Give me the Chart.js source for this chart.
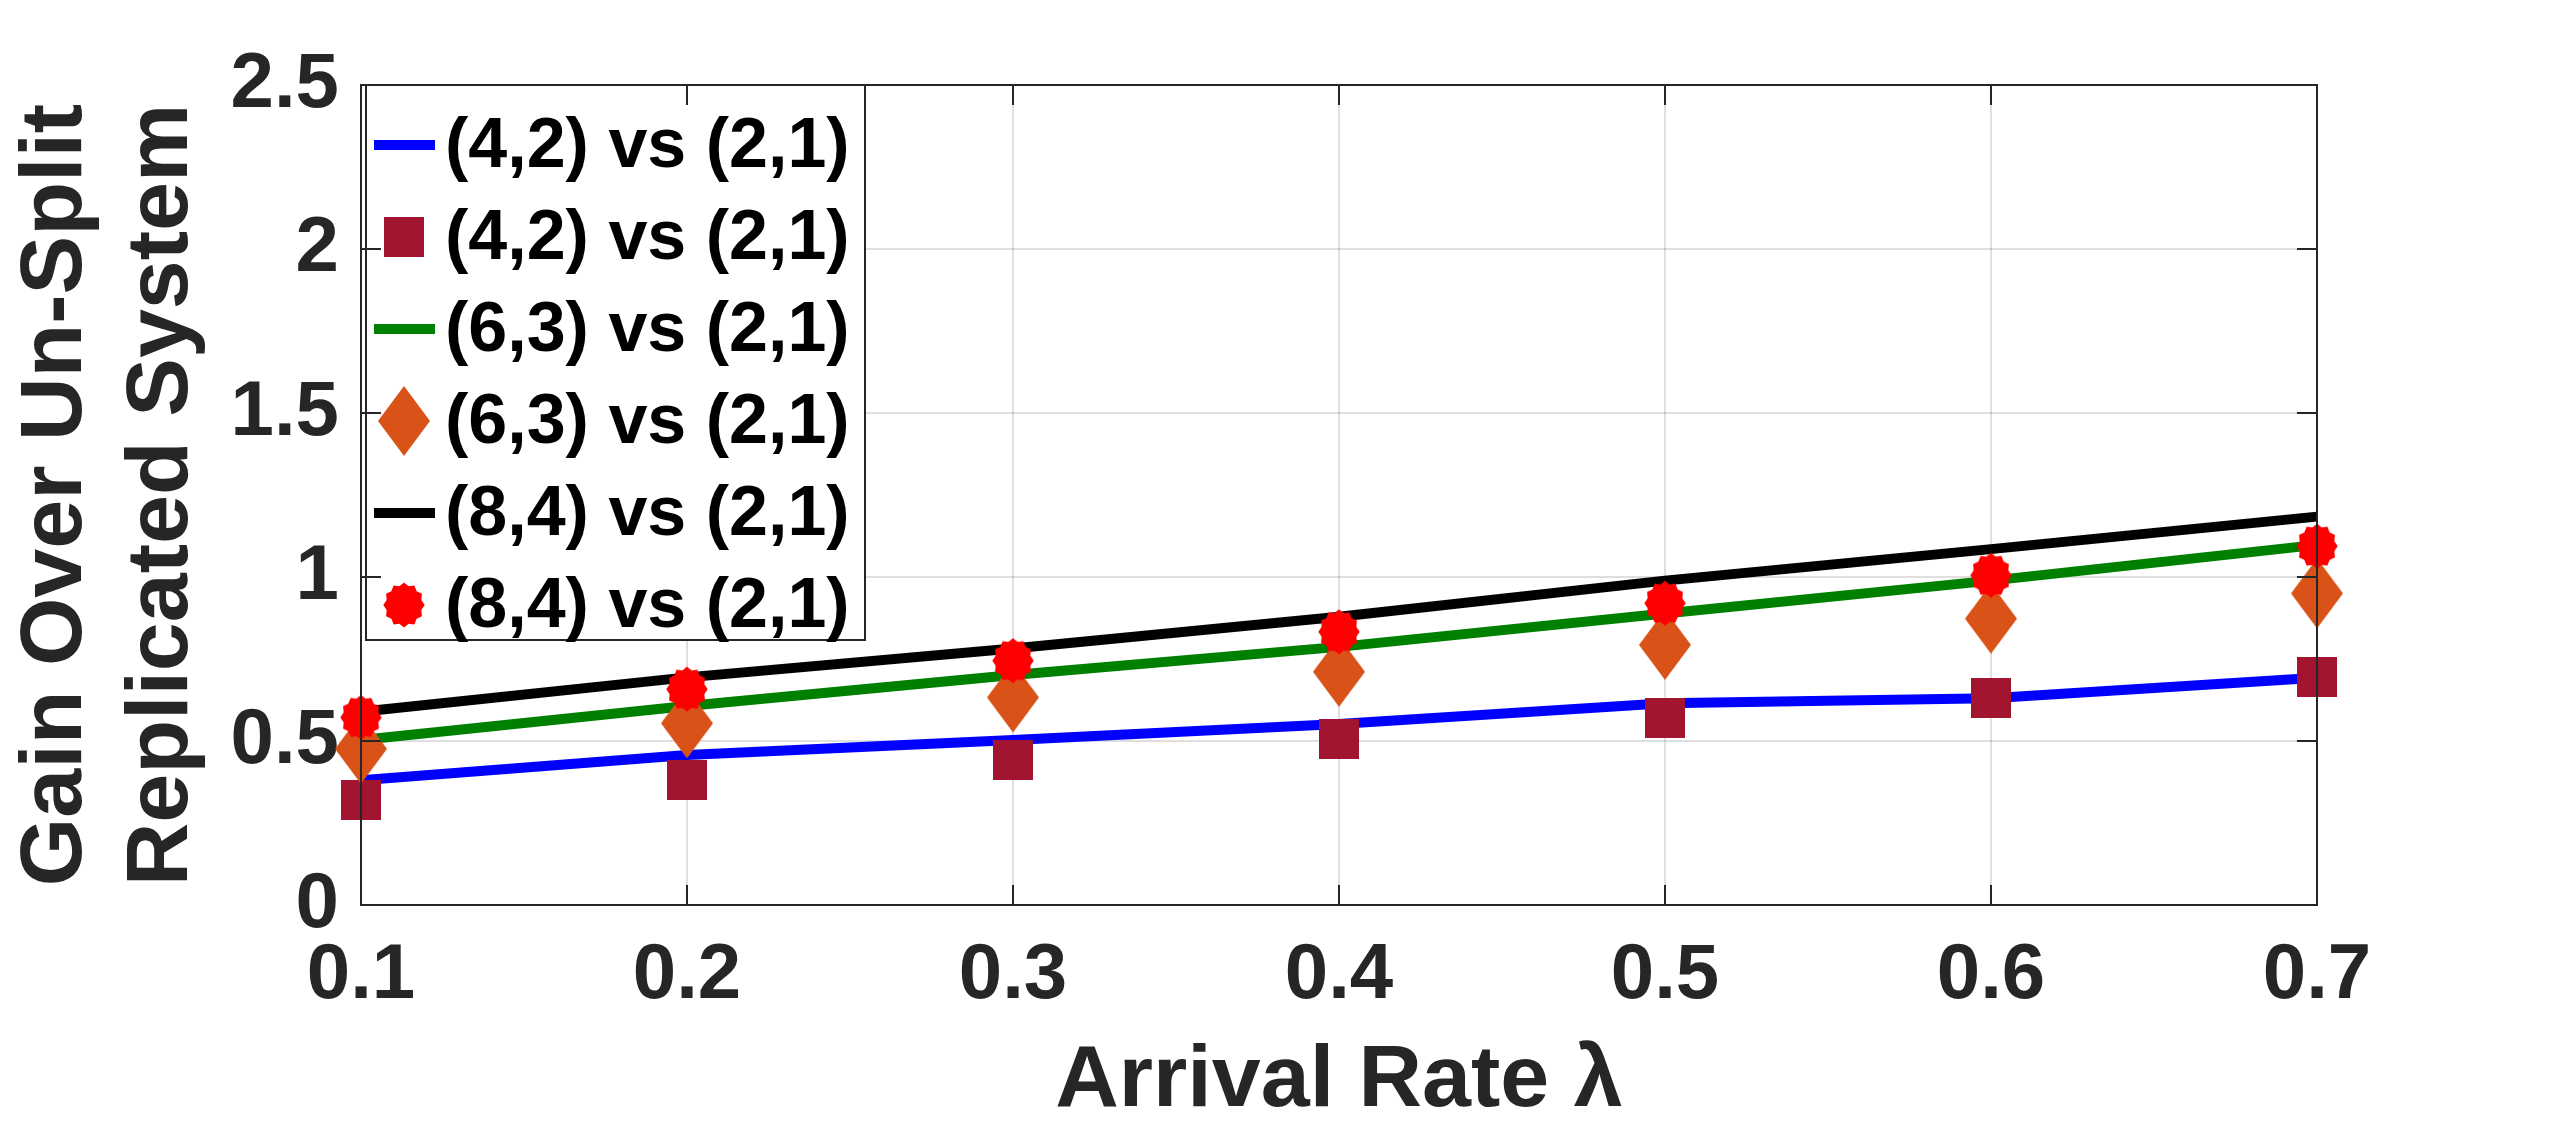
<!DOCTYPE html>
<html>
<head>
<meta charset="UTF-8">
<title>Gain over un-split replicated system</title>
<style>
  html, body { margin: 0; padding: 0; background: #ffffff; }
  #wrap { width: 2560px; height: 1135px; }
</style>
<script src="https://cdn.jsdelivr.net/npm/chart.js"></script>
</head>
<body>
<div id="wrap"><canvas id="gainChart" width="2560" height="1135"></canvas></div>
<script>
// values
const arrivalRate = [0.1, 0.2, 0.3, 0.4, 0.5, 0.6, 0.7];
const line42 = [0.380, 0.457, 0.503, 0.552, 0.615, 0.630, 0.693];
const marks42 = [0.320, 0.380, 0.443, 0.505, 0.569, 0.630, 0.694];
const line63 = [0.503, 0.607, 0.701, 0.787, 0.889, 0.989, 1.098];
const marks63 = [0.476, 0.554, 0.633, 0.711, 0.793, 0.873, 0.950];
const line84 = [0.589, 0.694, 0.782, 0.879, 0.989, 1.085, 1.184];
const marks84 = [0.572, 0.658, 0.745, 0.833, 0.920, 1.005, 1.094];
const seriesLabels = ['(4,2) vs (2,1)', '(4,2) vs (2,1)', '(6,3) vs (2,1)', '(6,3) vs (2,1)', '(8,4) vs (2,1)', '(8,4) vs (2,1)'];
const xTickValues = [0.1, 0.2, 0.3, 0.4, 0.5, 0.6, 0.7];
const yTickValues = [0, 0.5, 1, 1.5, 2, 2.5];

const FONT = "'Liberation Sans', Arial, sans-serif";
const AXIS_COLOR = '#262626';

function pairs(ys) {
    return arrivalRate.map(function(x, i) { return {x: x, y: ys[i]}; });
}

function makeMarker(w, h, draw) {
    const c = document.createElement('canvas');
    c.width = w;
    c.height = h;
    draw(c.getContext('2d'), w, h);
    return c;
}

const squareMark = makeMarker(40, 40, function(g, w, h) {
    g.fillStyle = '#A2142F';
    g.fillRect(0, 0, w, h);
});
const diamondMark = makeMarker(52, 70, function(g, w, h) {
    g.fillStyle = '#D95319';
    g.beginPath();
    g.moveTo(w / 2, 0);
    g.lineTo(w, h / 2);
    g.lineTo(w / 2, h);
    g.lineTo(0, h / 2);
    g.closePath();
    g.fill();
});
const starMark = makeMarker(46, 46, function(g, w, h) {
    // bumpy red blob, like the fat hexagram of the original
    g.fillStyle = '#FF0000';
    g.beginPath();
    const n = 24;
    for (let i = 0; i < n; i++) {
        const r = (i % 2 === 0) ? 22.5 : 19.5;
        const a = i * Math.PI * 2 / n - Math.PI / 2;
        const px = w / 2 + r * Math.cos(a) * 0.92;
        const py = h / 2 + r * Math.sin(a);
        if (i === 0) g.moveTo(px, py); else g.lineTo(px, py);
    }
    g.closePath();
    g.fill();
});

function lineSet(label, ys, color) {
    return {
        label: label, data: pairs(ys), borderColor: color, backgroundColor: color,
        borderWidth: 10, pointRadius: 0, pointStyle: 'line', tension: 0,
        showLine: true, clip: false, order: 10
    };
}
function markSet(label, ys, mark, color, order) {
    return {
        label: label, data: pairs(ys), borderColor: color, backgroundColor: color,
        showLine: false, pointStyle: mark, pointRadius: 20, pointHoverRadius: 20,
        clip: false, order: order
    };
}

// legend box in the upper-left corner of the plot
const insideLegend = {
    id: 'insideLegend',
    afterDatasetsDraw(chart) {
        const ctx = chart.ctx;
        const a = chart.chartArea;
        const bx = a.left + 5, by = a.top, bw = 499, bh = 555;
        ctx.save();
        ctx.fillStyle = '#ffffff';
        ctx.fillRect(bx, by, bw, bh);
        ctx.strokeStyle = '#262626';
        ctx.lineWidth = 2;
        ctx.strokeRect(bx, by, bw, bh);
        ctx.font = 'bold 70px ' + FONT;
        ctx.textBaseline = 'middle';
        ctx.textAlign = 'left';
        chart.data.datasets.forEach(function(ds, i) {
            const cy = by + 60 + 92 * i;
            const cx = bx + 38;
            if (ds.pointStyle === 'line') {
                ctx.strokeStyle = ds.borderColor;
                ctx.lineWidth = ds.borderWidth;
                ctx.beginPath();
                ctx.moveTo(bx + 8, cy);
                ctx.lineTo(bx + 69, cy);
                ctx.stroke();
            } else {
                const m = ds.pointStyle;
                ctx.drawImage(m, cx - m.width / 2, cy - m.height / 2);
            }
            ctx.fillStyle = '#000000';
            ctx.fillText(ds.label, bx + 79, cy + 3);
        });
        ctx.restore();
    }
};

// box on, with inward tick marks like the original figure
const boxFrame = {
    id: 'boxFrame',
    afterDraw(chart) {
        const ctx = chart.ctx;
        const a = chart.chartArea;
        const xs = chart.scales.x, ys = chart.scales.y;
        const tl = 20;
        ctx.save();
        ctx.strokeStyle = AXIS_COLOR;
        ctx.lineWidth = 2;
        ctx.beginPath();
        xTickValues.forEach(function(v) {
            const px = xs.getPixelForValue(v);
            ctx.moveTo(px, a.bottom); ctx.lineTo(px, a.bottom - tl);
            ctx.moveTo(px, a.top); ctx.lineTo(px, a.top + tl);
        });
        yTickValues.forEach(function(v) {
            const py = ys.getPixelForValue(v);
            ctx.moveTo(a.left, py); ctx.lineTo(a.left + tl, py);
            ctx.moveTo(a.right, py); ctx.lineTo(a.right - tl, py);
        });
        ctx.stroke();
        ctx.strokeRect(a.left, a.top, a.right - a.left, a.bottom - a.top);
        ctx.restore();
    }
};

const ctx = document.getElementById('gainChart').getContext('2d');
const gainChart = new Chart(ctx, {
    type: 'scatter',
    data: {
        datasets: [
            lineSet(seriesLabels[0], line42, '#0000FF'),
            markSet(seriesLabels[1], marks42, squareMark, '#A2142F', 3),
            lineSet(seriesLabels[2], line63, '#008000'),
            markSet(seriesLabels[3], marks63, diamondMark, '#D95319', 2),
            lineSet(seriesLabels[4], line84, '#000000'),
            markSet(seriesLabels[5], marks84, starMark, '#FF0000', 1)
        ]
    },
    options: {
        responsive: false,
        animation: false,
        devicePixelRatio: 1,
        layout: { padding: { top: 85, right: 243, bottom: 0, left: 0 } },
        plugins: { legend: { display: false }, tooltip: { enabled: false } },
        scales: {
            x: {
                type: 'linear', min: 0.1, max: 0.7,
                afterBuildTicks: function(s) { s.ticks = xTickValues.map(function(v) { return {value: v}; }); },
                afterFit: function(s) { s.height = 230; },
                grid: { color: 'rgba(38,38,38,0.15)', lineWidth: 2, drawTicks: false },
                border: { display: true, color: AXIS_COLOR, width: 2 },
                ticks: {
                    padding: 25, color: AXIS_COLOR,
                    font: { family: FONT, size: 78, weight: 'bold' },
                    callback: function(v) { return v.toFixed(1); }
                },
                title: {
                    display: true, text: 'Arrival Rate \u03BB', color: AXIS_COLOR,
                    font: { family: FONT, size: 88, weight: 'bold' },
                    padding: { top: 0, bottom: 0 }
                }
            },
            y: {
                type: 'linear', min: 0, max: 2.5,
                afterBuildTicks: function(s) { s.ticks = yTickValues.map(function(v) { return {value: v}; }); },
                afterFit: function(s) { s.width = 361; },
                grid: { color: 'rgba(38,38,38,0.15)', lineWidth: 2, drawTicks: false },
                border: { display: true, color: AXIS_COLOR, width: 2 },
                ticks: {
                    padding: 22, color: AXIS_COLOR,
                    font: { family: FONT, size: 78, weight: 'bold' },
                    callback: function(v) { return String(v); }
                },
                title: {
                    display: true, text: ['Gain Over Un-Split', 'Replicated System'], color: AXIS_COLOR,
                    font: { family: FONT, size: 88, weight: 'bold' },
                    padding: { top: 4, bottom: 0 }
                }
            }
        }
    },
    plugins: [insideLegend, boxFrame]
});
</script>
</body>
</html>
